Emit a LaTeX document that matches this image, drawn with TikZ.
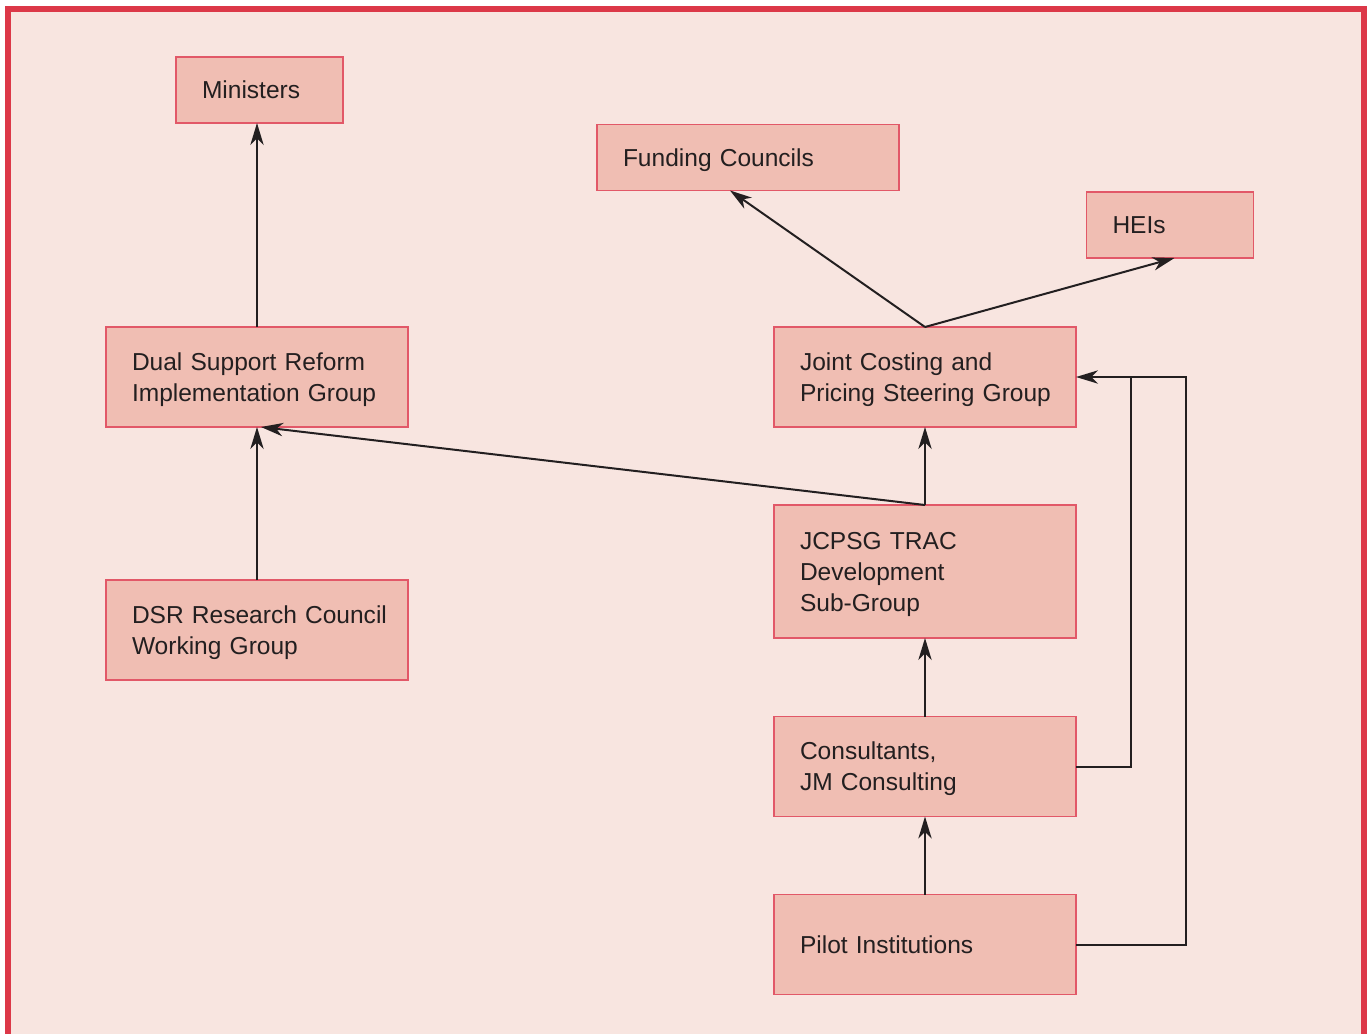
\documentclass[tikz,border=0pt]{standalone}
\usepackage{fontspec}
\setmainfont{Liberation Sans}
\usetikzlibrary{arrows.meta}
\definecolor{bgpink}{HTML}{F8E5E0}
\definecolor{framered}{HTML}{DC3848}
\definecolor{boxfill}{HTML}{F0BEB3}
\definecolor{boxline}{HTML}{E25868}
\definecolor{ink}{HTML}{231F20}
\tikzset{
  box/.style={rectangle, draw=boxline, line width=1.1pt, fill=boxfill,
    inner xsep=19.5pt, inner ysep=0pt, outer sep=0pt, align=left,
    text=ink, text height=14pt, text depth=0.8pt,
    font=\fontsize{18.4}{23.25}\selectfont},
  two/.style={text depth=24.05pt},
  three/.style={text depth=47.3pt},
  wide/.style={box, text width=187.5pt, minimum height=75pt},
  link/.style={draw=ink, line width=1.5pt},
  arr/.style={link, -{Stealth[length=16.5pt, width=10pt, inset=5pt]}}
}
\begin{document}
\begin{tikzpicture}[x=0.75pt, y=-0.75pt]
\useasboundingbox (0,0) rectangle (1371,1033);
\fill[white] (0,0) rectangle (1371,1033);
\fill[bgpink] (8,8.5) rectangle (1363.5,1050);
\draw[framered, line width=4.5pt] (8,1050) -- (8,8.5) -- (1363.5,8.5) -- (1363.5,1050);

\node[box, text width=86.25pt, minimum height=49.5pt] (min) at (259.5,90) {Ministers};
\node[box, text width=187.5pt, minimum height=49.5pt] (fund) at (748,157.5) {Funding Councils};
\node[box, text width=86.25pt, minimum height=49.5pt] (hei) at (1170,225) {HEIs};
\node[wide, two] (dual) at (257,377) {\mbox{Dual Support Reform}\\\mbox{Implementation Group}};
\node[wide, two] (joint) at (925,377) {\mbox{Joint Costing and}\\\mbox{Pricing Steering Group}};
\node[wide, three, minimum height=99.75pt] (trac) at (925,571.5) {\mbox{JCPSG TRAC}\\\mbox{Development}\\\mbox{Sub-Group}};
\node[wide, two] (dsr) at (257,630) {\mbox{DSR Research Council}\\\mbox{Working Group}};
\node[wide, two] (cons) at (925,766.5) {\mbox{Consultants,}\\\mbox{JM Consulting}};
\node[wide] (pilot) at (925,944.5) {\mbox{Pilot Institutions}};

\coordinate (ja) at (1131,377);
\coordinate (jb) at (1186,377);

\draw[arr] (dual.north) -- (dual.north |- min.south);
\draw[arr] (dsr.north) -- (dual.south);
\draw[arr] (joint.north) -- ([xshift=99.75pt]fund.south west);
\draw[arr] (joint.north) -- ([xshift=66pt]hei.south west);
\draw[arr] (trac.north) -- (joint.south);
\draw[arr] (trac.north) -- ([xshift=3pt]dual.south);
\draw[arr] (cons.north) -- (trac.south);
\draw[arr] (pilot.north) -- (cons.south);
\draw[link] (cons.east) -| (ja);
\draw[arr] (pilot.east) -| (jb) -- (joint.east);
\end{tikzpicture}
\end{document}
